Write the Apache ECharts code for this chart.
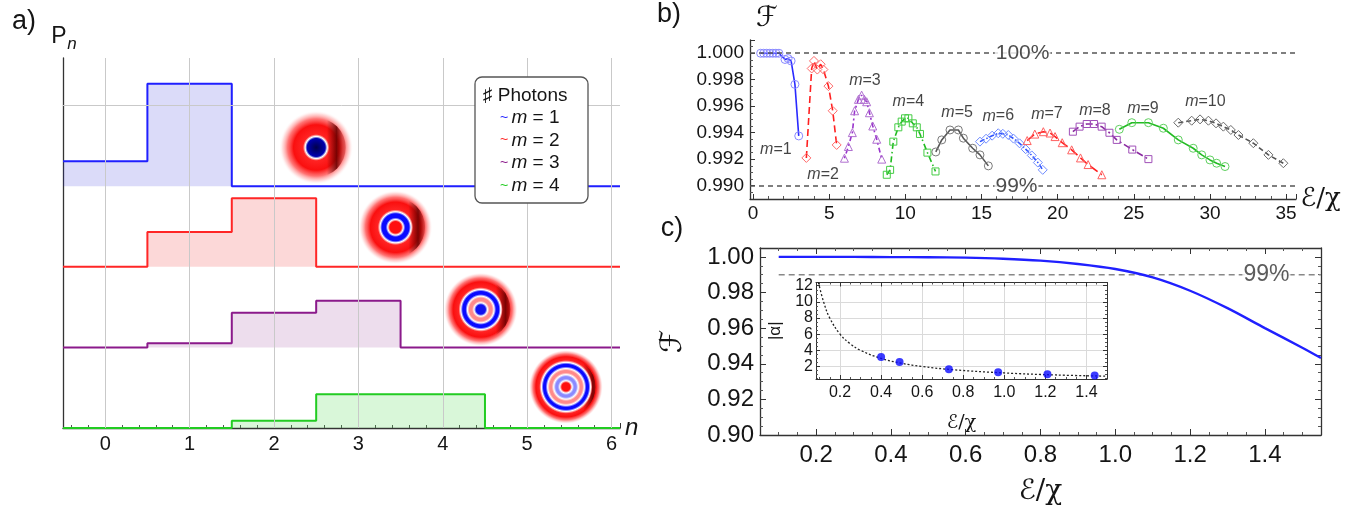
<!DOCTYPE html>
<html><head><meta charset="utf-8">
<script src="https://cdn.jsdelivr.net/npm/echarts@6/dist/echarts.min.js"></script>
<style>html,body{margin:0;padding:0;background:#fff}#c{width:1358px;height:506px}</style>
</head><body><div id="c"></div>
<script>
// ================= DATA =================
// ---- Panel a: photon-number distributions P_n (heights in plot units, panels offset by 1) ----
const nValues = [0, 1, 2, 3, 4, 5, 6];
const pnM1 = [0.31, 1.27, 0, 0, 0, 0, 0];
const pnM2 = [0, 0.43, 0.85, 0, 0, 0, 0];
const pnM3 = [0, 0.05, 0.43, 0.58, 0, 0, 0];
const pnM4 = [0, 0, 0.09, 0.42, 0.42, 0, 0];
const pnOffsets = [3, 2, 1, 0];
const aXTicks = [0, 1, 2, 3, 4, 5, 6];
const aYGrid = [4];
const legendNames = ['m = 1', 'm = 2', 'm = 3', 'm = 4'];
// Wigner-function insets (centre in data units, photon number)
const wignerX = [2.50, 3.44, 4.45, 5.46];
const wignerY = [3.48, 2.49, 1.47, 0.51];
const wignerM = [1, 2, 3, 4];

// ---- Panel b: fidelity vs E/chi for m = 1..10 ----
const bX1 = [0.5, 0.7, 0.9, 1.1, 1.3, 1.5, 1.7, 2.1, 2.3, 2.5, 2.75, 3.0];
const bF1 = [1.0000, 1.0000, 1.0000, 1.0000, 1.0000, 1.0000, 1.0000, 0.99953, 0.9996, 0.99942, 0.99765, 0.99376];
const bX2 = [3.5, 3.85, 4.0, 4.22, 4.44, 4.62, 4.95, 5.23, 5.49];
const bF2 = [0.9921, 0.99885, 0.99942, 0.99877, 0.99917, 0.99877, 0.99752, 0.99566, 0.99308];
const bX3 = [6.0, 6.26, 6.52, 6.67, 6.92, 7.13, 7.31, 7.46, 7.64, 7.86, 8.12, 8.45];
const bF3 = [0.99208, 0.99296, 0.99401, 0.99566, 0.99652, 0.99684, 0.99652, 0.99634, 0.99551, 0.99451, 0.99351, 0.99201];
const bX4 = [8.78, 9.0, 9.21, 9.54, 9.76, 9.98, 10.2, 10.49, 10.75, 10.96, 11.45, 11.98];
const bF4 = [0.99083, 0.9912, 0.99333, 0.99441, 0.99484, 0.99509, 0.99509, 0.99471, 0.99441, 0.99391, 0.9925, 0.99108];
const bX5 = [12.0, 12.39, 12.93, 13.48, 13.81, 14.42, 14.9, 15.45];
const bF5 = [0.99255, 0.99346, 0.99421, 0.99421, 0.99359, 0.99283, 0.99233, 0.9915];
const bX6 = [14.9, 15.3, 15.7, 16.1, 16.4, 16.76, 17.1, 17.5, 17.9, 18.3, 18.7, 19.02];
const bF6 = [0.99333, 0.99355, 0.99378, 0.99396, 0.99392, 0.99383, 0.99356, 0.9932, 0.99276, 0.99229, 0.99175, 0.9912];
const bX7 = [18.0, 18.5, 19.06, 19.5, 19.83, 20.3, 20.92, 21.5, 22.0, 22.9];
const bF7 = [0.99341, 0.9939, 0.99408, 0.99398, 0.99371, 0.99325, 0.99271, 0.9921, 0.9916, 0.99083];
const bX8 = [21.0, 21.44, 21.91, 22.39, 22.89, 23.4, 23.88, 24.9, 25.96];
const bF8 = [0.99408, 0.99446, 0.99466, 0.99466, 0.99446, 0.994, 0.99346, 0.99273, 0.99201];
const bX9 = [24.05, 24.87, 25.96, 26.94, 27.92, 28.9, 29.46, 30.0, 30.44, 30.99];
const bF9 = [0.99426, 0.99476, 0.99476, 0.99434, 0.99346, 0.99283, 0.99233, 0.99195, 0.9917, 0.99145];
const bX10 = [27.92, 28.8, 29.35, 29.9, 30.4, 30.88, 31.37, 31.87, 32.85, 33.84, 34.82];
const bF10 = [0.99476, 0.99491, 0.99501, 0.99491, 0.99471, 0.99446, 0.99421, 0.99383, 0.99321, 0.99233, 0.9917];
const bLabelX = [1.5, 4.6, 7.35, 10.2, 13.4, 16.1, 19.3, 22.45, 25.6, 29.7];
const bLabelF = [0.99271, 0.99083, 0.99797, 0.99632, 0.99549, 0.99526, 0.99541, 0.99564, 0.99586, 0.99632];
const bXTicks = [0, 5, 10, 15, 20, 25, 30, 35];
const bYTicks = [0.990, 0.992, 0.994, 0.996, 0.998, 1.000];
const bThresholds = [1.000, 0.990];
const bThresholdText = ['100%', '99%'];
const bThresholdTextX = [17.7, 17.3];

// ---- Panel c: fidelity vs E/chi, inset |alpha| ----
const cX = [0.1, 0.2, 0.3, 0.4, 0.5, 0.6, 0.7, 0.8, 0.9, 1.0, 1.1, 1.2, 1.3, 1.4, 1.5, 1.55];
const cF = [1.0000, 1.0000, 1.0000, 0.9999, 0.9998, 0.9996, 0.9990, 0.9979, 0.9960, 0.9932, 0.9885, 0.9810, 0.9712, 0.9600, 0.9490, 0.9432];
const cThreshold = 0.99;
const cThresholdX = [0.1, 1.55];
const cXTicks = [0.2, 0.4, 0.6, 0.8, 1.0, 1.2, 1.4];
const cYTicks = [0.90, 0.92, 0.94, 0.96, 0.98, 1.00];
const insetX = [0.4, 0.49, 0.73, 0.97, 1.21, 1.44];
const insetAlpha = [3.16, 2.54, 1.67, 1.30, 1.05, 0.88];
const insetCurveX = [0.095, 0.12, 0.15, 0.2, 0.25, 0.3, 0.4, 0.5, 0.6, 0.75, 1.0, 1.25, 1.5];
const insetCurveAlpha = [12.4, 10.0, 8.0, 6.0, 4.8, 4.0, 3.0, 2.4, 2.0, 1.6, 1.2, 0.95, 0.8];
const insetXTicks = [0.2, 0.4, 0.6, 0.8, 1.0, 1.2, 1.4];
const insetYTicks = [2, 4, 6, 8, 10, 12];

// ================= STYLE =================
const FONT = 'Liberation Sans, Arial, DejaVu Sans, sans-serif';
const SCRIPT = 'DejaVu Serif, DejaVu Sans, serif';
const TXT = '#151515';
const AX = '#333';

function fmtIf(list, digits) {
  return v => list.some(t => Math.abs(t - v) < 1e-7) ? Number(v).toFixed(digits) : '';
}
function lab(size, fmt, margin, show) {
  return {show: show !== false, color: TXT, fontFamily: FONT, fontSize: size, formatter: fmt, margin: margin, showMinLabel: true, showMaxLabel: true, hideOverlap: false};
}
function tick(len) { return {show: true, inside: true, length: len, lineStyle: {color: AX, width: 1}}; }
function minor(n, len) { return {show: true, splitNumber: n, length: len, lineStyle: {color: '#555', width: 1}}; }
function line(w) { return {show: true, onZero: false, lineStyle: {color: AX, width: w || 1.2}}; }
const noSplit = {show: false};

// ---- panel a series builder ----
const A_X_MIN = -0.5, A_X_MAX = 6.1;
function stepData(vals, off) {
  const pts = [];
  vals.forEach((v, i) => { pts.push([nValues[i] - 0.5, off + v]); pts.push([nValues[i] + 0.5, off + v]); });
  pts[pts.length - 1][0] = A_X_MAX;
  return pts;
}
const aColors = ['#1f1fff', '#ff2626', '#8b1a8b', '#22cc22'];
const aFills = ['rgba(30,30,220,0.23)', 'rgba(240,40,40,0.26)', 'rgba(140,30,140,0.22)', 'rgba(40,210,40,0.25)'];
const pnAll = [pnM1, pnM2, pnM3, pnM4];

const series = [];
// grid lines of panel a
series.push({type: 'line', xAxisIndex: 0, yAxisIndex: 0, data: [], z: 1, silent: true,
  markLine: {silent: true, symbol: ['none', 'none'], label: {show: false}, animation: false,
    lineStyle: {color: '#c9c9c9', width: 1, type: 'solid'},
    data: aXTicks.map(v => ({xAxis: v})).concat(aYGrid.map(v => ({yAxis: v})))}});
pnAll.forEach((p, i) => {
  series.push({type: 'line', name: legendNames[i], xAxisIndex: 0, yAxisIndex: 0, data: stepData(p, pnOffsets[i]),
    symbol: 'none', z: 3, lineStyle: {color: aColors[i], width: 2}, itemStyle: {color: aColors[i]},
    areaStyle: {color: aFills[i], origin: pnOffsets[i]}});
});

// Wigner function pictures
function wignerItem(params, api) {
  const c = api.coord([api.value(0), api.value(1)]);
  const cx = c[0], cy = c[1];
  const m = api.value(2);
  const R = 37;
  const rOut = 11 + 4.5 * (m - 1);
  const a = rOut / R;
  const outer = {type: 'radial', x: 0.5, y: 0.5, r: 0.5, colorStops: [
    {offset: 0, color: '#ffffff'}, {offset: a, color: '#ffffff'},
    {offset: a + 0.06, color: 'rgb(255,35,35)'},
    {offset: a + (1 - a) * 0.45, color: 'rgb(250,15,15)'},
    {offset: a + (1 - a) * 0.68, color: 'rgba(255,70,70,0.75)'},
    {offset: a + (1 - a) * 0.87, color: 'rgba(255,150,150,0.32)'},
    {offset: 1, color: 'rgba(255,255,255,0)'}]};
  const stops = [];
  const s = rOut / m;
  const g = 2.0 / rOut;
  for (let k = 0; k < m; k++) {
    const red = (m - k) % 2 === 0;
    let col;
    if (k === 0) col = red ? '#ff1010' : (m === 1 ? '#0000b0' : '#1010f0');
    else if (k === m - 1) col = '#0a0aff';
    else col = red ? '#ff8a8a' : '#8a8aff';
    const lo = k * s / rOut, hi = (k + 1) * s / rOut;
    if (k === 0) {
      stops.push({offset: 0, color: m === 1 ? '#00004a' : col});
    } else {
      stops.push({offset: lo, color: '#ffffff'});
      stops.push({offset: lo + g, color: col});
    }
    stops.push({offset: hi - g, color: col});
  }
  stops.push({offset: 1, color: '#ffffff'});
  const inner = {type: 'radial', x: 0.5, y: 0.5, r: 0.5, colorStops: stops};
  const rDark = R * 0.8;
  const p = (rOut + (rDark - rOut) * 0.5) / R;
  const dark = {type: 'linear', global: true, x: cx, y: cy, x2: cx + R, y2: cy, colorStops: [
    {offset: 0, color: 'rgba(110,0,0,0)'}, {offset: p - 0.26, color: 'rgba(110,0,0,0)'},
    {offset: p, color: 'rgba(105,0,0,0.88)'}, {offset: Math.min(p + 0.16, 0.97), color: 'rgba(140,0,0,0.35)'},
    {offset: 1, color: 'rgba(170,0,0,0)'}]};
  return {type: 'group', children: [
    {type: 'circle', shape: {cx: cx, cy: cy, r: R}, style: {fill: outer}},
    {type: 'ring', shape: {cx: cx, cy: cy, r: rDark, r0: rOut + 1.5}, style: {fill: dark}},
    {type: 'circle', shape: {cx: cx, cy: cy, r: rOut}, style: {fill: inner}}
  ]};
}
series.push({type: 'custom', xAxisIndex: 0, yAxisIndex: 0, z: 4, silent: true,
  data: wignerX.map((x, i) => [x, wignerY[i], wignerM[i]]), renderItem: wignerItem, clip: false});

// ---- panel b ----
const bXs = [bX1, bX2, bX3, bX4, bX5, bX6, bX7, bX8, bX9, bX10];
const bFs = [bF1, bF2, bF3, bF4, bF5, bF6, bF7, bF8, bF9, bF10];
const bLine = ['#2a2aff', '#ff2020', '#9933cc', '#22bb22', '#555555', '#3355ff', '#ff2020', '#8a2aa0', '#22bb22', '#555555'];
const bMark = ['#8a8aff', '#ff6a6a', '#b070d0', '#44cc44', '#7a7a7a', '#6f8cff', '#ff6060', '#a050b8', '#60d060', '#6a6a6a'];
const bDash = ['solid', [7, 4], [2, 3, 5, 3], [6, 3, 1.5, 3], 'solid', [5, 2, 1.5, 2], [9, 4], [7, 3, 2, 3], 'solid', [5, 3]];
const bSym = ['circle', 'diamond', 'triangle', 'rect', 'circle', 'diamond', 'triangle', 'rect', 'circle', 'diamond'];
bXs.forEach((xs, i) => {
  series.push({type: 'line', xAxisIndex: 1, yAxisIndex: 1, z: 3,
    data: xs.map((x, j) => [x, bFs[i][j]]),
    symbol: bSym[i], symbolSize: bSym[i] === 'rect' ? 7 : (bSym[i] === 'diamond' ? 9 : 8), showAllSymbol: true,
    lineStyle: {color: bLine[i], width: 1.6, type: bDash[i]},
    itemStyle: {color: 'rgba(255,255,255,0)', borderColor: bMark[i], borderWidth: 1}});
});
// threshold lines 100% / 99%
series.push({type: 'line', xAxisIndex: 1, yAxisIndex: 1, data: [], z: 2, silent: true,
  markLine: {silent: true, symbol: ['none', 'none'], label: {show: false}, animation: false,
    lineStyle: {color: '#555', width: 1.6, type: [5, 4]},
    data: bThresholds.map(v => ({yAxis: v}))}});
series.push({type: 'scatter', xAxisIndex: 1, yAxisIndex: 1, z: 10, symbolSize: 1, silent: true,
  itemStyle: {color: 'rgba(0,0,0,0)'},
  data: bThresholds.map((v, i) => ({value: [bThresholdTextX[i], v], name: bThresholdText[i]})),
  label: {show: true, position: 'inside', formatter: p => p.name, color: '#222', fontFamily: FONT, fontSize: 21, backgroundColor: '#fff', padding: [0, 1]}});
series.push({type: 'scatter', xAxisIndex: 1, yAxisIndex: 1, z: 10, symbolSize: 1, silent: true,
  itemStyle: {color: 'rgba(0,0,0,0)'},
  data: bLabelX.map((x, i) => [x, bLabelF[i]]),
  label: {show: true, position: 'inside', formatter: p => '{i|m}{r|=' + (p.dataIndex + 1) + '}',
    rich: {i: {fontStyle: 'italic', fontFamily: FONT, fontSize: 16, color: TXT}, r: {fontFamily: FONT, fontSize: 16, color: TXT}}}});

// ---- panel c ----
series.push({type: 'line', xAxisIndex: 2, yAxisIndex: 2, z: 2, symbol: 'none', silent: true,
  data: cThresholdX.map(x => [x, cThreshold]), lineStyle: {color: '#888', width: 1.6, type: [6, 4]}});
series.push({type: 'line', xAxisIndex: 2, yAxisIndex: 2, z: 3, symbol: 'none', smooth: 0.3,
  data: cX.map((x, i) => [x, cF[i]]), lineStyle: {color: '#2020ff', width: 2.4}});
series.push({type: 'scatter', xAxisIndex: 2, yAxisIndex: 2, z: 10, symbolSize: 1, silent: true,
  itemStyle: {color: 'rgba(0,0,0,0)'}, data: [[1.404, cThreshold]],
  label: {show: true, position: 'inside', formatter: '99%', color: '#333', fontFamily: FONT, fontSize: 23, backgroundColor: '#fff', padding: [0, 1]}});
// inset
series.push({type: 'line', xAxisIndex: 4, yAxisIndex: 4, z: 3, symbol: 'none', smooth: 0.4,
  data: insetCurveX.map((x, i) => [x, insetCurveAlpha[i]]), lineStyle: {color: '#222', width: 1.3, type: [2, 2]}});
series.push({type: 'scatter', xAxisIndex: 4, yAxisIndex: 4, z: 4, symbol: 'circle', symbolSize: 8,
  data: insetX.map((x, i) => [x, insetAlpha[i]]), itemStyle: {color: '#0a0aff'}});

const option = {
  animation: false,
  backgroundColor: '#fff',
  grid: [
    {left: 63, top: 58, width: 557, height: 370, outerBoundsMode: 'none'},
    {left: 750, top: 40, width: 546, height: 159, outerBoundsMode: 'none'},
    {left: 760, top: 248, width: 561, height: 187, outerBoundsMode: 'none'},
    {left: 816, top: 282.5, width: 291, height: 96.5, outerBoundsMode: 'none', show: true, backgroundColor: '#fff', borderWidth: 0}
  ],
  xAxis: [
    {type: 'value', gridIndex: 0, min: A_X_MIN, max: A_X_MAX, splitNumber: 7,
      name: 'n', nameLocation: 'end', nameGap: 5,
      nameTextStyle: {fontStyle: 'italic', fontSize: 24, fontFamily: FONT, color: TXT, verticalAlign: 'middle'},
      axisLine: line(1.3), axisTick: tick(5), minorTick: minor(5, 3), splitLine: noSplit,
      axisLabel: lab(20, fmtIf(aXTicks, 0), 6)},
    {type: 'value', gridIndex: 1, min: -0.2, max: 35.65, splitNumber: 7,
      name: 'ℰ/χ', nameLocation: 'end', nameGap: 4,
      nameTextStyle: {fontSize: 26, fontFamily: SCRIPT, color: TXT, verticalAlign: 'middle'},
      axisLine: line(1.3), axisTick: tick(5), minorTick: minor(5, 3), splitLine: noSplit,
      axisLabel: lab(19, fmtIf(bXTicks, 0), 5)},
    {type: 'value', gridIndex: 2, min: 0.05, max: 1.55, splitNumber: 7, position: 'bottom',
      name: 'ℰ/χ', nameLocation: 'middle', nameGap: 43,
      nameTextStyle: {fontSize: 28, fontFamily: SCRIPT, color: TXT},
      axisLine: line(1.3), axisTick: tick(6), minorTick: minor(4, 3), splitLine: noSplit,
      axisLabel: lab(24, fmtIf(cXTicks, 1), 8)},
    {type: 'value', gridIndex: 2, min: 0.05, max: 1.55, splitNumber: 7, position: 'top',
      axisLine: line(1.3), axisTick: tick(6), minorTick: minor(4, 3), splitLine: noSplit,
      axisLabel: {show: false}},
    {type: 'value', gridIndex: 3, min: 0.083, max: 1.5, splitNumber: 7, position: 'bottom',
      name: 'ℰ/χ', nameLocation: 'middle', nameGap: 35,
      nameTextStyle: {fontSize: 19, fontFamily: SCRIPT, color: TXT},
      axisLine: line(1), axisTick: tick(4), minorTick: minor(4, 2), splitLine: {show: true, lineStyle: {color: '#dadada', width: 1}},
      axisLabel: lab(16, fmtIf(insetXTicks, 1), 6)},
    {type: 'value', gridIndex: 3, min: 0.083, max: 1.5, splitNumber: 7, position: 'top',
      axisLine: line(1), axisTick: tick(4), minorTick: minor(4, 2), splitLine: noSplit, axisLabel: {show: false}}
  ],
  yAxis: [
    {type: 'value', gridIndex: 0, min: 0, max: 4.59, interval: 1,
      axisLine: line(1.3), axisTick: {show: false}, splitLine: noSplit, axisLabel: {show: false}},
    {type: 'value', gridIndex: 1, min: 0.989, max: 1.001, splitNumber: 6,
      axisLine: line(1.3), axisTick: tick(5), minorTick: minor(4, 3), splitLine: noSplit,
      axisLabel: lab(19, fmtIf(bYTicks, 3), 6)},
    {type: 'value', gridIndex: 2, min: 0.90, max: 1.005, splitNumber: 5, position: 'left',
      name: 'ℱ', nameLocation: 'middle', nameGap: 72, nameRotate: 90,
      nameTextStyle: {fontSize: 30, fontFamily: SCRIPT, color: TXT},
      axisLine: line(1.3), axisTick: tick(6), minorTick: minor(4, 3), splitLine: noSplit,
      axisLabel: lab(24, fmtIf(cYTicks, 2), 6)},
    {type: 'value', gridIndex: 2, min: 0.90, max: 1.005, splitNumber: 5, position: 'right',
      axisLine: line(1.3), axisTick: tick(6), minorTick: minor(4, 3), splitLine: noSplit, axisLabel: {show: false}},
    {type: 'value', gridIndex: 3, min: 0.45, max: 12.4, splitNumber: 6, position: 'left',
      name: '|α|', nameLocation: 'middle', nameGap: 32, nameRotate: 90,
      nameTextStyle: {fontSize: 17, fontFamily: FONT, color: TXT},
      axisLine: line(1), axisTick: tick(4), minorTick: minor(4, 2), splitLine: {show: true, lineStyle: {color: '#dadada', width: 1}},
      axisLabel: lab(16, fmtIf(insetYTicks, 0), 3)},
    {type: 'value', gridIndex: 3, min: 0.45, max: 12.4, splitNumber: 6, position: 'right',
      axisLine: line(1), axisTick: tick(4), minorTick: minor(4, 2), splitLine: noSplit, axisLabel: {show: false}}
  ],
  graphic: [
    {type: 'text', x: 24, y: 22, style: {text: 'a)', fontSize: 27, fontFamily: FONT, fill: TXT, align: 'center', verticalAlign: 'middle', textAlign: 'center', textVerticalAlign: 'middle'}},
    {type: 'text', x: 59, y: 37, style: {text: 'P', fontSize: 23, fontFamily: FONT, fill: TXT, align: 'center', verticalAlign: 'middle', textAlign: 'center', textVerticalAlign: 'middle'}},
    {type: 'text', x: 72, y: 44, style: {text: 'n', fontSize: 17, fontStyle: 'italic', fontFamily: FONT, fill: TXT, align: 'center', verticalAlign: 'middle', textAlign: 'center', textVerticalAlign: 'middle'}},
    {type: 'text', x: 669, y: 15, style: {text: 'b)', fontSize: 27, fontFamily: FONT, fill: TXT, align: 'center', verticalAlign: 'middle', textAlign: 'center', textVerticalAlign: 'middle'}},
    {type: 'text', x: 767, y: 19, style: {text: 'ℱ', fontSize: 28, fontFamily: SCRIPT, fill: TXT, align: 'center', verticalAlign: 'middle', textAlign: 'center', textVerticalAlign: 'middle'}},
    {type: 'text', x: 672, y: 229, style: {text: 'c)', fontSize: 27, fontFamily: FONT, fill: TXT, align: 'center', verticalAlign: 'middle', textAlign: 'center', textVerticalAlign: 'middle'}},
    // legend box of panel a
    {type: 'rect', z: 20, shape: {x: 475, y: 77, width: 113, height: 126, r: 7}, style: {fill: '#fff', stroke: '#555', lineWidth: 1.3}},
    {type: 'text', z: 21, x: 483, y: 96, style: {text: '♯ Photons', fontSize: 19, fontFamily: FONT, fill: TXT, align: 'left', verticalAlign: 'middle', textAlign: 'left', textVerticalAlign: 'middle'}}
  ].concat(legendNames.map((nm, i) => ({type: 'text', z: 21, x: 500, y: 118 + i * 22.6,
      style: {text: '{t|~} {i|m}{r|' + nm.slice(1) + '}', align: 'left', verticalAlign: 'middle', textAlign: 'left', textVerticalAlign: 'middle',
        rich: {t: {fontSize: 14, fontFamily: FONT, fill: aColors[i], color: aColors[i]},
               i: {fontSize: 19, fontStyle: 'italic', fontFamily: FONT, fill: TXT, color: TXT},
               r: {fontSize: 19, fontFamily: FONT, fill: TXT, color: TXT}}}}))),
  series: series
};
const chart = echarts.init(document.getElementById('c'));
chart.setOption(option);
</script></body></html>
